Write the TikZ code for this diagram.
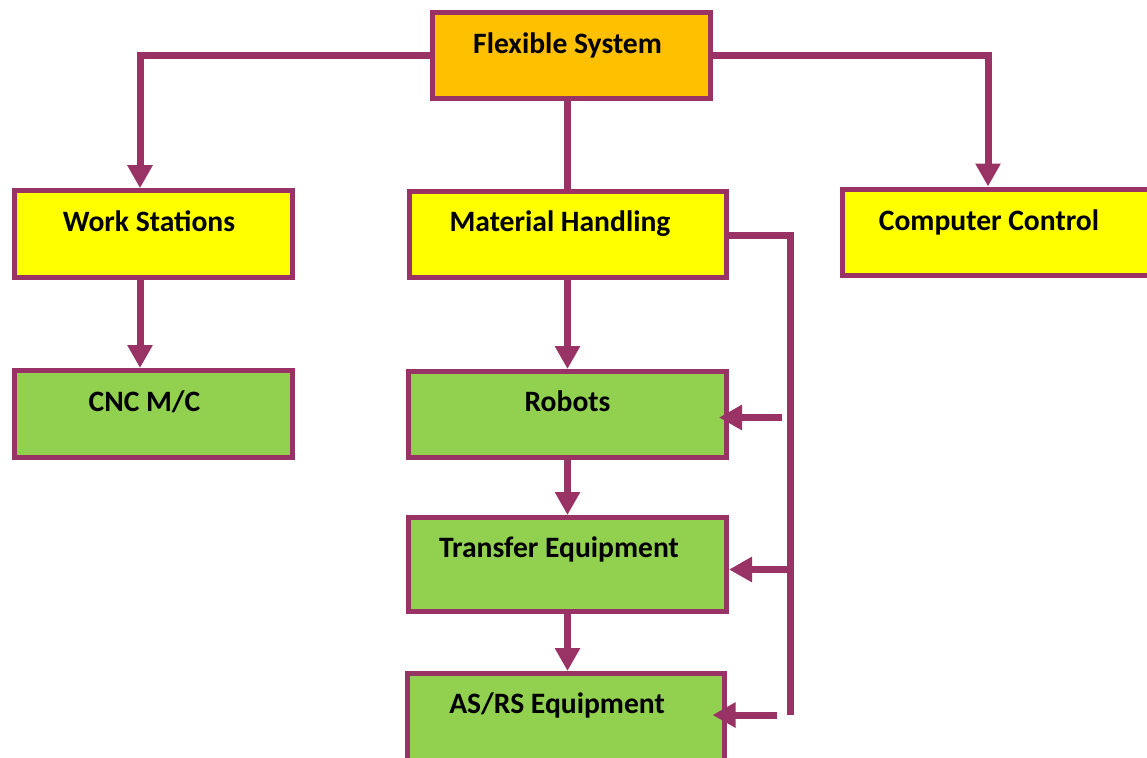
\documentclass[tikz,border=0pt]{standalone}
\usepackage{fontspec}
\setmainfont{Carlito}
\usetikzlibrary{arrows.meta}

\definecolor{plum}{HTML}{993366}
\definecolor{boxorange}{HTML}{FFC000}
\definecolor{boxyellow}{HTML}{FFFF00}
\definecolor{boxgreen}{HTML}{92D050}

\tikzset{
  box/.style={draw=plum, line width=5pt, rectangle, inner sep=0pt},
  lbl/.style={anchor=base, inner sep=0pt, font=\fontsize{29.6}{34}\selectfont\bfseries},
  conn/.style={draw=plum, line width=7pt},
  arr/.style={conn, -{Triangle[width=24pt,length=23pt]}},
}

% box from two stroke-centre corners (x1,y1) (x2,y2), y pointing down
\newcommand{\boxat}[6]{%
  \node[box, fill=#6, minimum width={#3-#1}, minimum height={#4-#2}] (#5)
    at ({(#1+#3)/2},{(#2+#4)/2}) {};}

\begin{document}
\begin{tikzpicture}[x=1pt, y=-1pt]
  \useasboundingbox (0,0) rectangle (1147,757);
  \clip (0,0) rectangle (1147,757);
  \fill[white] (0,0) rectangle (1147,757);

  % boxes
  \boxat{432}{13}{710}{98.5}{fs}{boxorange}
  \boxat{14}{190.7}{292.5}{277.5}{ws}{boxyellow}
  \boxat{409}{191}{726}{277}{mh}{boxyellow}
  \boxat{842.5}{189}{1160}{275}{cc}{boxyellow}
  \boxat{14}{370.5}{292.5}{457.5}{cnc}{boxgreen}
  \boxat{408.5}{371.5}{726.5}{457.5}{rb}{boxgreen}
  \boxat{408.5}{517.5}{726.5}{611.5}{tr}{boxgreen}
  \boxat{407}{673.5}{724}{780}{as}{boxgreen}

  % labels
  \node[lbl] (fs-t)  at (567.5,53.3) {Flexible System};
  \node[lbl] (ws-t)  at (149,231.7)  {Work Stations};
  \node[lbl] (mh-t)  at (560,231)    {Material Handling};
  \node[lbl] (cc-t)  at (989,230)    {Computer Control};
  \node[lbl] (cnc-t) at (144.5,411.7){CNC M/C};
  \node[lbl] (rb-t)  at (567.5,411.7){Robots};
  \node[lbl] (tr-t)  at (559,557)    {Transfer Equipment};
  \node[lbl] (as-t)  at (557,713)    {AS/RS Equipment};

  % routing points
  \coordinate (wsin) at (140,56);
  \coordinate (ccin) at (988,56);
  \coordinate (bt) at (790.5,235.5);
  \coordinate (bb) at (790.5,715);
  \coordinate (ra) at (782,417.5);
  \coordinate (ta) at (790.5,569.5);
  \coordinate (aa) at (776.7,715);

  % tree connectors
  \draw[arr] (fs.west |- wsin) -- (wsin) -- (ws.north -| wsin);
  \draw[arr] (fs.east |- ccin) -- (ccin) -- (cc.north -| ccin);
  \draw[conn] (fs.south -| mh.north) -- (mh.north);
  \draw[arr] (ws.south -| wsin) -- (cnc.north -| wsin);
  \draw[arr] (mh.south) -- (rb.north);
  \draw[arr] (rb.south) -- (tr.north -| rb.south);
  \draw[arr] (tr.south) -- (as.north -| tr.south);

  % side bus feeding the handling equipment
  \draw[conn, line join=miter] (mh.east |- bt) -- (bt) -- (bb);
  \draw[arr, shorten >=-10pt] (ra) -- (rb.east |- ra);
  \draw[arr] (ta) -- (tr.east |- ta);
  \draw[arr, shorten >=-14pt] (aa) -- (as.east |- aa);
\end{tikzpicture}
\end{document}
